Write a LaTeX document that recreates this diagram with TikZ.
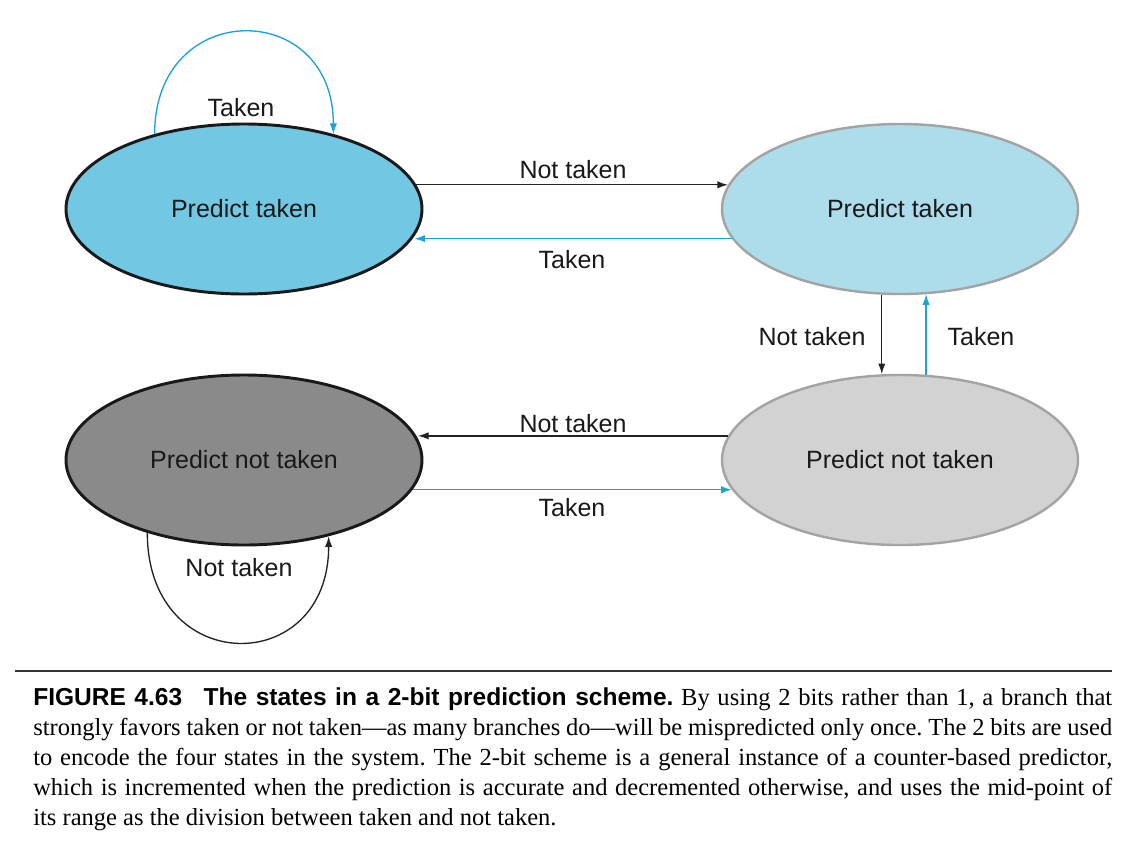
\documentclass[tikz,border=0pt]{standalone}
\usepackage{fontspec}
\setmainfont{Liberation Sans}
\newfontfamily\capserif[Ligatures=TeX]{Liberation Serif}
\newfontfamily\capsans{Liberation Sans}
\usetikzlibrary{shapes.geometric,arrows.meta}
\definecolor{tlfill}{HTML}{72C8E3}
\definecolor{trfill}{HTML}{ADDCEA}
\definecolor{blfill}{HTML}{8A8A8A}
\definecolor{brfill}{HTML}{D2D2D2}
\definecolor{weakborder}{HTML}{A3A3A3}
\definecolor{arrowblue}{HTML}{1BA3D6}
\definecolor{linkblack}{HTML}{222222}
\tikzset{
  state/.style={ellipse, minimum width=267pt, minimum height=127.5pt, inner sep=0pt,
    font=\fontsize{18.75}{22}\selectfont, text=black!90},
  strongstate/.style={state, draw=black!90, line width=2.2pt},
  weakstate/.style={state, draw=weakborder, line width=1.8pt},
  lbl/.style={inner sep=0pt, font=\fontsize{18.75}{22}\selectfont, text=black!90},
  arr/.style={line width=1pt, -{Latex[length=8pt,width=5.5pt]}},
  blk/.style={arr, draw=linkblack},
  blu/.style={arr, draw=arrowblue},
}
\begin{document}
\begin{tikzpicture}[x=0.75pt,y=-0.75pt]
\useasboundingbox (0,0) rectangle (1136,850);
\fill[white] (0,0) rectangle (1136,850);

% states
\node[strongstate, fill=tlfill] (tl) at (244,209) {Predict taken};
\node[weakstate, fill=trfill] (tr) at (900,209) {Predict taken};
\node[strongstate, fill=blfill] (bl) at (244,460) {Predict not taken};
\node[weakstate, fill=brfill] (br) at (900,460) {Predict not taken};

% transitions
\draw[blk] (tl.8) -- (tl.8 -| tr.172);
\draw[blu] (tr.-170.5) -- (tr.-170.5 -| tl.-9.5);
\draw[blk] (tr.258.6) -- (tr.258.6 |- br.101.4);
\draw[blu] (br.73.5) -- (br.73.5 |- tr.-73.5);
\draw[blk] (br.172.7) -- (br.172.7 -| bl.7.3);
\draw[blu] (bl.-10.2) -- (bl.-10.2 -| br.190.2);
\draw[blu] (tl.140) .. controls +(0,-136) and +(0,-136) .. (tl.40);
\draw[blk] (bl.217) .. controls +(0,145) and +(0,142) .. (bl.-42);

% labels
\node[lbl] (lab1) at (573,170) {Not taken};
\node[lbl] (lab2) at (572,260) {Taken};
\node[lbl] (lab3) at (812,337) {Not taken};
\node[lbl] (lab4) at (981,337) {Taken};
\node[lbl] (lab5) at (573,424) {Not taken};
\node[lbl] (lab6) at (572,508) {Taken};
\node[lbl] (lab7) at (241,108) {Taken};
\node[lbl] (lab8) at (239,568) {Not taken};

% caption
\draw[line width=1.4pt, black!80] (15,671) -- (1112,671);
\node[anchor=north west, inner sep=0pt, text width=809.25pt, align=justify,
  font=\capserif\fontsize{18.4}{22.5}\selectfont] (caption) at (33,687)
{\hyphenpenalty=10000\exhyphenpenalty=10000\frenchspacing%
{\capsans\bfseries FIGURE 4.63\hspace{16pt}The states in a 2-bit prediction scheme.}
By using 2 bits rather than 1, a branch that\linebreak
strongly favors taken or not taken—as many branches do—will be mispredicted only once. The 2 bits are used\linebreak
to encode the four states in the system. The 2-bit scheme is a general instance of a counter-based predictor,\linebreak
which is incremented when the prediction is accurate and decremented otherwise, and uses the mid-point of\linebreak
its range as the division between taken and not taken.};
\end{tikzpicture}
\end{document}
